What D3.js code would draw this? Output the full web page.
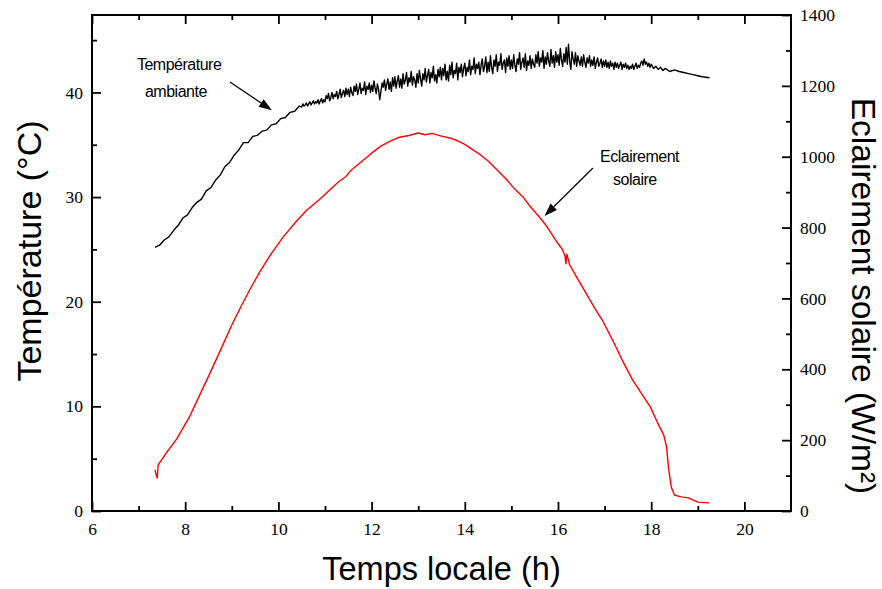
<!DOCTYPE html>
<html><head><meta charset="utf-8">
<script src="https://cdn.jsdelivr.net/npm/d3@7"></script>
<style>body{margin:0;background:#fff}svg{display:block}</style>
</head><body><svg id="c" width="882" height="589"></svg>
<script>
// ---- data ----
const tempHours = [
 7.35,7.45,7.55,7.65,7.75,7.85,7.95,8.05,8.15,8.25,8.35,8.45,8.55,8.65,8.75,8.85,8.95,9.05,9.15,9.25,
 9.35,9.45,9.55,9.65,9.75,9.85,9.95,10.05,10.15,10.25,10.35,10.45,
 10.5,10.525,10.55,10.575,10.6,10.625,10.65,10.675,10.7,10.725,10.75,10.775,10.8,10.825,10.85,10.875,10.9,10.925,10.95,10.975,
 11.0,11.025,11.05,11.075,11.1,11.125,11.15,11.175,11.2,11.225,11.25,11.275,11.3,11.325,11.35,11.375,11.4,11.425,11.45,11.475,
 11.5,11.525,11.55,11.575,11.6,11.625,11.65,11.675,11.7,11.725,11.75,11.775,11.8,11.825,11.85,11.875,11.9,11.925,11.95,11.975,
 12.0,12.025,12.05,12.075,12.1,12.125,12.15,12.175,12.2,12.225,12.25,12.275,12.3,12.325,12.35,12.375,12.4,12.425,12.45,12.475,
 12.5,12.525,12.55,12.575,12.6,12.625,12.65,12.675,12.7,12.725,12.75,12.775,12.8,12.825,12.85,12.875,12.9,12.925,12.95,12.975,
 13.0,13.025,13.05,13.075,13.1,13.125,13.15,13.175,13.2,13.225,13.25,13.275,13.3,13.325,13.35,13.375,13.4,13.425,13.45,13.475,
 13.5,13.525,13.55,13.575,13.6,13.625,13.65,13.675,13.7,13.725,13.75,13.775,13.8,13.825,13.85,13.875,13.9,13.925,13.95,13.975,
 14.0,14.025,14.05,14.075,14.1,14.125,14.15,14.175,14.2,14.225,14.25,14.275,14.3,14.325,14.35,14.375,14.4,14.425,14.45,14.475,
 14.5,14.525,14.55,14.575,14.6,14.625,14.65,14.675,14.7,14.725,14.75,14.775,14.8,14.825,14.85,14.875,14.9,14.925,14.95,14.975,
 15.0,15.025,15.05,15.075,15.1,15.125,15.15,15.175,15.2,15.225,15.25,15.275,15.3,15.325,15.35,15.375,15.4,15.425,15.45,15.475,
 15.5,15.525,15.55,15.575,15.6,15.625,15.65,15.675,15.7,15.725,15.75,15.775,15.8,15.825,15.85,15.875,15.9,15.925,15.95,15.975,
 16.0,16.025,16.05,16.075,16.1,16.125,16.15,16.175,16.2,16.225,16.25,16.275,16.3,16.325,16.35,16.375,16.4,16.425,16.45,16.475,
 16.5,16.525,16.55,16.575,16.6,16.625,16.65,16.675,16.7,16.725,16.75,16.775,16.8,16.825,16.85,16.875,16.9,16.925,16.95,16.975,
 17.0,17.025,17.05,17.075,17.1,17.125,17.15,17.175,17.2,17.225,17.25,17.275,17.3,17.325,17.35,17.375,17.4,17.425,17.45,17.475,
 17.5,17.525,17.55,17.575,17.6,17.625,17.65,17.675,17.7,17.725,17.75,17.775,17.8,17.825,17.85,17.875,17.9,17.925,17.95,17.975,
 18.0,18.05,18.1,18.15,18.2,18.25,18.3,18.4,18.5,18.6,18.7,18.8,18.9,19.0,19.1,19.25
];
const tempValues = [
 25.2,25.4,25.9,26.2,26.8,27.3,28.0,28.3,29.0,29.5,29.8,30.6,30.9,31.6,32.1,32.9,33.3,34.0,34.5,35.2,
 35.2,35.8,35.9,36.3,36.4,36.9,37.0,37.5,37.6,38.1,38.2,38.7,
 38.6,38.9,38.7,38.8,39.0,38.7,38.9,39.1,38.8,39.0,39.2,38.9,39.1,39.0,39.3,38.9,39.2,39.4,39.0,39.3,
 39.1,39.7,39.4,39.9,39.2,39.5,40.0,39.4,39.8,39.6,40.1,39.4,39.8,40.3,39.5,39.9,40.2,39.6,40.4,39.8,
 40.3,39.6,40.5,40.0,39.7,40.6,40.1,40.8,39.8,40.3,40.9,39.9,40.4,40.2,41.0,39.8,40.6,40.3,40.9,40.0,
 40.7,40.1,41.1,40.4,39.9,40.8,40.3,39.3,40.1,40.9,40.5,41.2,40.2,40.8,41.3,40.3,41.0,40.1,41.4,40.6,
 41.5,40.4,41.1,41.6,40.5,41.3,40.4,41.8,40.8,41.2,41.9,40.6,41.4,41.0,42.0,40.7,41.5,41.2,40.5,41.8,
 40.9,42.1,41.3,40.6,41.8,41.2,42.3,41.0,41.6,42.2,40.9,41.9,41.4,42.5,41.1,41.7,40.9,42.2,41.5,42.4,
 41.2,42.3,41.6,42.7,41.2,42.0,41.1,42.6,41.7,42.9,41.4,42.1,41.8,42.8,41.2,42.4,41.9,42.7,41.5,42.3,
 42.8,41.6,42.4,42.0,43.1,41.7,42.5,42.2,43.3,41.8,42.7,42.3,42.9,41.7,42.6,43.2,42.0,42.5,43.4,41.9,
 42.9,42.0,43.5,42.4,41.8,43.1,42.5,43.6,42.0,42.9,42.6,43.7,42.2,42.8,43.1,41.9,43.3,42.5,43.5,42.2,
 43.1,42.3,43.6,42.6,42.0,43.2,42.7,43.8,42.2,42.9,43.3,42.4,43.7,42.1,43.0,42.6,43.5,42.3,43.2,42.7,
 42.4,43.6,42.8,43.9,42.5,43.3,42.9,44.0,42.3,43.4,42.7,43.8,43.0,42.5,44.1,42.8,43.5,42.4,43.9,42.9,
 43.6,42.6,44.2,43.1,42.5,43.7,42.9,44.3,42.7,44.6,43.0,42.2,43.9,43.2,42.7,43.8,42.5,43.5,43.0,42.6,
 43.4,42.5,43.6,42.9,42.4,43.3,42.8,43.5,42.5,43.1,42.6,43.4,42.3,42.9,43.3,42.5,42.8,43.2,42.4,43.0,
 42.5,43.1,42.4,42.9,42.3,43.0,42.5,42.8,42.2,42.9,42.4,42.8,42.3,42.6,42.9,42.2,42.7,42.4,42.8,42.3,
 42.6,42.2,42.5,42.3,42.7,42.2,42.5,42.8,42.3,42.6,42.4,42.8,43.0,42.6,43.2,42.7,42.9,42.5,42.8,42.4,
 42.7,42.3,42.5,42.2,42.4,42.1,42.3,42.0,42.15,42.0,41.9,41.8,41.7,41.6,41.5,41.4
];
const irrHours = [
 7.35,7.40,7.42,7.60,7.80,7.90,8.10,8.26,8.50,8.75,9.00,9.20,9.40,9.60,9.84,10.10,10.40,10.60,10.87,11.10,
 11.30,11.45,11.56,11.80,12.00,12.20,12.40,12.60,12.80,13.00,13.15,13.30,13.50,13.70,13.85,14.00,14.20,14.34,14.50,
 14.70,14.90,15.05,15.25,15.40,15.60,15.75,15.88,16.00,16.10,16.15,16.17,16.19,16.25,16.40,16.60,16.80,16.95,
 17.20,17.40,17.60,17.80,17.98,18.13,18.27,18.33,18.37,18.43,18.50,18.65,18.80,19.00,19.24
];
const irrValues = [
 116,93,130,165,200,222,268,313,380,452,525,578,628,675,725,773,820,848,878,906,
 930,944,962,988,1010,1030,1044,1055,1060,1067,1062,1066,1058,1052,1045,1035,1017,1005,988,
 962,935,912,886,860,830,805,779,755,737,720,698,725,695,660,615,570,539,
 475,420,370,330,294,251,214,181,124,68,45,40,37,25,23
];
const xMajorTicks = [6,8,10,12,14,16,18,20];
const xMinorTicks = [7,9,11,13,15,17,19];
const tempMajorTicks = [0,10,20,30,40];
const tempMinorTicks = [5,15,25,35,45];
const irrMajorTicks = [0,200,400,600,800,1000,1200,1400];
const irrMinorTicks = [100,300,500,700,900,1100,1300];
const xTitle = "Temps locale (h)";
const leftTitle = "Température (°C)";
const rightTitle = "Eclairement solaire (W/m²)";
const tempLabel = ["Température","ambiante"];
const irrLabel = ["Eclairement","solaire"];

// ---- layout ----
const L = 92, R = 791, T = 15, B = 511;
const svg = d3.select("#c");
const x = d3.scaleLinear().domain([6,21]).range([L,R]);
const yT = d3.scaleLinear().domain([0,47.4]).range([B,T]);
const yE = d3.scaleLinear().domain([0,1400]).range([B,T]);

const sans = "Liberation Sans";
const serif = "Liberation Serif";

function styleAxis(g){
  g.attr("font-family",serif).attr("font-size",17.5);
  g.select(".domain").remove();
  g.selectAll(".tick line").attr("stroke","#000").attr("stroke-width",1.8);
  g.selectAll("text").attr("font-family",serif).attr("fill","#000");
}
// bottom
svg.append("g").attr("transform",`translate(0,${B})`)
  .call(d3.axisBottom(x).tickValues(xMajorTicks).tickSize(-9).tickPadding(12).tickFormat(d3.format("d"))).call(styleAxis);
svg.append("g").attr("transform",`translate(0,${B})`)
  .call(d3.axisBottom(x).tickValues(xMinorTicks).tickSize(-5).tickFormat("")).call(styleAxis);
// top
svg.append("g").attr("transform",`translate(0,${T})`)
  .call(d3.axisTop(x).tickValues(xMajorTicks).tickSize(-9).tickFormat("")).call(styleAxis);
svg.append("g").attr("transform",`translate(0,${T})`)
  .call(d3.axisTop(x).tickValues(xMinorTicks).tickSize(-5).tickFormat("")).call(styleAxis);
// left
svg.append("g").attr("transform",`translate(${L},0)`)
  .call(d3.axisLeft(yT).tickValues(tempMajorTicks).tickSize(-9).tickPadding(9).tickFormat(d3.format("d"))).call(styleAxis);
svg.append("g").attr("transform",`translate(${L},0)`)
  .call(d3.axisLeft(yT).tickValues(tempMinorTicks).tickSize(-5).tickFormat("")).call(styleAxis);
// right
svg.append("g").attr("transform",`translate(${R},0)`)
  .call(d3.axisRight(yE).tickValues(irrMajorTicks).tickSize(-9).tickPadding(9).tickFormat(d3.format("d"))).call(styleAxis);
svg.append("g").attr("transform",`translate(${R},0)`)
  .call(d3.axisRight(yE).tickValues(irrMinorTicks).tickSize(-5).tickFormat("")).call(styleAxis);

// frame
svg.append("rect").attr("x",L).attr("y",T).attr("width",R-L).attr("height",B-T)
  .attr("fill","none").attr("stroke","#000").attr("stroke-width",2);

// lines
const tempData = d3.zip(tempHours,tempValues);
const irrData = d3.zip(irrHours,irrValues);
svg.append("path").datum(irrData)
  .attr("d",d3.line().x(d=>x(d[0])).y(d=>yE(d[1])))
  .attr("fill","none").attr("stroke","#ff0000").attr("stroke-width",1.4).attr("stroke-linejoin","round");
svg.append("path").datum(tempData)
  .attr("d",d3.line().x(d=>x(d[0])).y(d=>yT(d[1])))
  .attr("fill","none").attr("stroke","#000").attr("stroke-width",1.4).attr("stroke-linejoin","round");

// annotations
function arrow(x1,y1,x2,y2){
  const ang = Math.atan2(y2-y1,x2-x1), len=13, w=4.5;
  const bx = x2-len*Math.cos(ang), by = y2-len*Math.sin(ang);
  svg.append("line").attr("x1",x1).attr("y1",y1).attr("x2",bx).attr("y2",by)
    .attr("stroke","#000").attr("stroke-width",1.2);
  const px = -Math.sin(ang)*w, py = Math.cos(ang)*w;
  svg.append("path").attr("d",`M${x2},${y2}L${bx+px},${by+py}L${bx-px},${by-py}Z`).attr("fill","#000");
}
const ann = svg.append("g").attr("font-family",sans).attr("font-size",16).attr("fill","#000")
  .attr("text-anchor","middle").attr("letter-spacing","-0.5");
ann.append("text").attr("x",x(7.87)).attr("y",yT(42.1)).text(tempLabel[0]);
ann.append("text").attr("x",x(7.80)).attr("y",yT(39.6)).text(tempLabel[1]);
arrow(x(8.96),yT(41.0),x(9.86),yT(38.3));
ann.append("text").attr("x",x(17.75)).attr("y",yE(985)).text(irrLabel[0]);
ann.append("text").attr("x",x(17.65)).attr("y",yE(920)).text(irrLabel[1]);
arrow(x(16.75),yE(968),x(15.71),yE(833));

// titles
svg.append("text").attr("x",(L+R)/2).attr("y",580).attr("text-anchor","middle")
  .attr("font-family",sans).attr("font-size",32.5).text(xTitle);
svg.append("text").attr("transform","translate(41,251) rotate(-90)").attr("text-anchor","middle")
  .attr("font-family",sans).attr("font-size",34).text(leftTitle);
svg.append("text").attr("transform","translate(852,296) rotate(90)").attr("text-anchor","middle")
  .attr("font-family",sans).attr("font-size",33.5).text(rightTitle);
</script></body></html>
